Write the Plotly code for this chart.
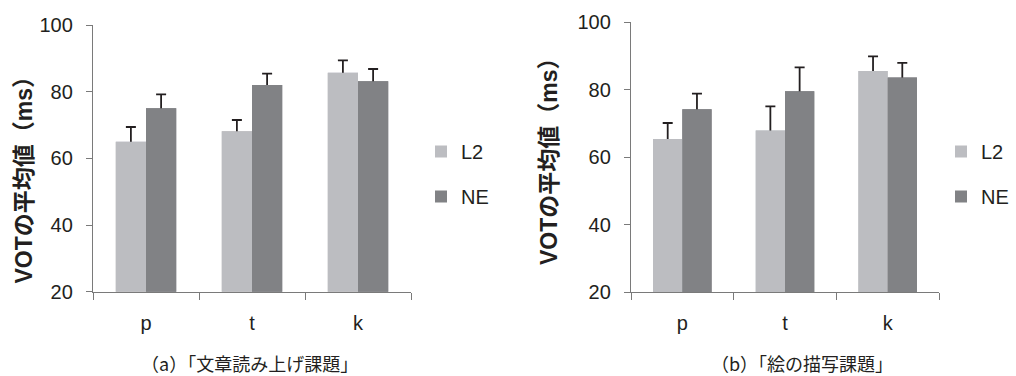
import plotly.graph_objects as go

W, H = 1016, 376

categories = ["p", "t", "k"]
series_names = ["L2", "NE"]

# (a) 文章読み上げ課題
a_L2 = [65.0, 68.1, 85.7]
a_L2_err = [4.4, 3.4, 3.7]
a_NE = [75.0, 82.0, 83.1]
a_NE_err = [4.2, 3.4, 3.7]

# (b) 絵の描写課題
b_L2 = [65.4, 67.9, 85.5]
b_L2_err = [4.7, 7.1, 4.3]
b_NE = [74.2, 79.5, 83.6]
b_NE_err = [4.6, 7.1, 4.3]

y_ticks = [20, 40, 60, 80, 100]
y_title = "VOTの平均値（ms）"
captions = ["（a）「文章読み上げ課題」", "（b）「絵の描写課題」"]

colors = {"L2": "#bcbdc1", "NE": "#818285"}
ink = "#231f20"
axis_col = "#7a7a7a"
sans = "Liberation Sans, Arial, Noto Sans CJK JP, sans-serif"
cjk = "Liberation Sans, Noto Sans CJK JP, sans-serif"

fig = go.Figure()

panels = [
    ("a", "x", "y", "legend", {"L2": (a_L2, a_L2_err), "NE": (a_NE, a_NE_err)}),
    ("b", "x2", "y2", "legend2", {"L2": (b_L2, b_L2_err), "NE": (b_NE, b_NE_err)}),
]

for tag, xa, ya, lg, data in panels:
    # bars with error bars (lower half hidden by overlay bars)
    for name in series_names:
        vals, errs = data[name]
        fig.add_trace(go.Bar(
            x=categories, y=vals, name=name, xaxis=xa, yaxis=ya,
            offsetgroup=f"{name}{tag}", marker=dict(color=colors[name], line=dict(width=0)),
            error_y=dict(type="data", array=errs, visible=True, color=ink,
                         thickness=1.8, width=5),
            showlegend=False, legend=lg, hoverinfo="skip",
        ))
    for name in series_names:
        vals, errs = data[name]
        fig.add_trace(go.Bar(
            x=categories, y=vals, name=name, xaxis=xa, yaxis=ya,
            offsetgroup=f"{name}{tag}", marker=dict(color=colors[name], line=dict(width=0)),
            showlegend=True, legend=lg, legendgroup=f"{name}{tag}",
        ))

def px_x(p):
    return p / W

def px_y(p):
    return 1 - p / H

xaxis_common = dict(
    type="category", showline=True, linecolor=axis_col, linewidth=1.3,
    ticks="outside", tickson="boundaries", ticklen=7, tickcolor=axis_col, tickwidth=1.3,
    tickfont=dict(family=sans, size=20, color=ink), ticklabelstandoff=13,
    showgrid=False, zeroline=False, fixedrange=True, automargin=False,
)
yaxis_common = dict(
    range=[20, 100], tickvals=y_ticks, showline=True, linecolor=axis_col, linewidth=1.3,
    ticks="outside", ticklen=6, tickcolor=axis_col, tickwidth=1.3,
    tickfont=dict(family=sans, size=20, color=ink), ticklabelstandoff=9,
    showgrid=False, zeroline=False, fixedrange=True, automargin=False,
)

legend_common = dict(
    font=dict(family=sans, size=20, color=ink), bgcolor="rgba(0,0,0,0)",
    itemwidth=30, tracegroupgap=16, traceorder="grouped",
    xanchor="left", yanchor="top", itemclick=False, itemdoubleclick=False,
)

fig.update_layout(
    template="none",
    width=W, height=H, autosize=False,
    margin=dict(l=0, r=0, t=0, b=0, pad=0),
    paper_bgcolor="white", plot_bgcolor="white",
    barmode="group", bargap=0.43, bargroupgap=0,
    xaxis=dict(domain=[px_x(93), px_x(411)], anchor="y", **xaxis_common),
    yaxis=dict(domain=[px_y(291.7), px_y(25)], anchor="x", **yaxis_common),
    xaxis2=dict(domain=[px_x(631), px_x(939)], anchor="y2", **xaxis_common),
    yaxis2=dict(domain=[px_y(292.3), px_y(22)], anchor="x2", **yaxis_common),
    legend=dict(x=px_x(421), y=px_y(132), **legend_common),
    legend2=dict(x=px_x(941), y=px_y(132), **legend_common),
    showlegend=True,
)

annotations = [
    dict(text=f"<b>{y_title}</b>", x=px_x(23), y=px_y(174.5), xref="paper", yref="paper",
         textangle=-90, showarrow=False, font=dict(family=cjk, size=23, color=ink),
         xanchor="center", yanchor="middle"),
    dict(text=f"<b>{y_title}</b>", x=px_x(549), y=px_y(156), xref="paper", yref="paper",
         textangle=-90, showarrow=False, font=dict(family=cjk, size=23, color=ink),
         xanchor="center", yanchor="middle"),
    dict(text=captions[0], x=px_x(249), y=px_y(363), xref="paper", yref="paper",
         showarrow=False, font=dict(family="Noto Sans CJK JP, serif", size=18, color=ink),
         xanchor="center", yanchor="middle"),
    dict(text=captions[1], x=px_x(802), y=px_y(363), xref="paper", yref="paper",
         showarrow=False, font=dict(family="Noto Sans CJK JP, serif", size=18, color=ink),
         xanchor="center", yanchor="middle"),
]
fig.update_layout(annotations=annotations)

fig.write_html(
    "out.html",
    config={"displayModeBar": False, "staticPlot": False},
    post_script="document.body.style.margin='0';document.body.style.overflow='hidden';",
)
